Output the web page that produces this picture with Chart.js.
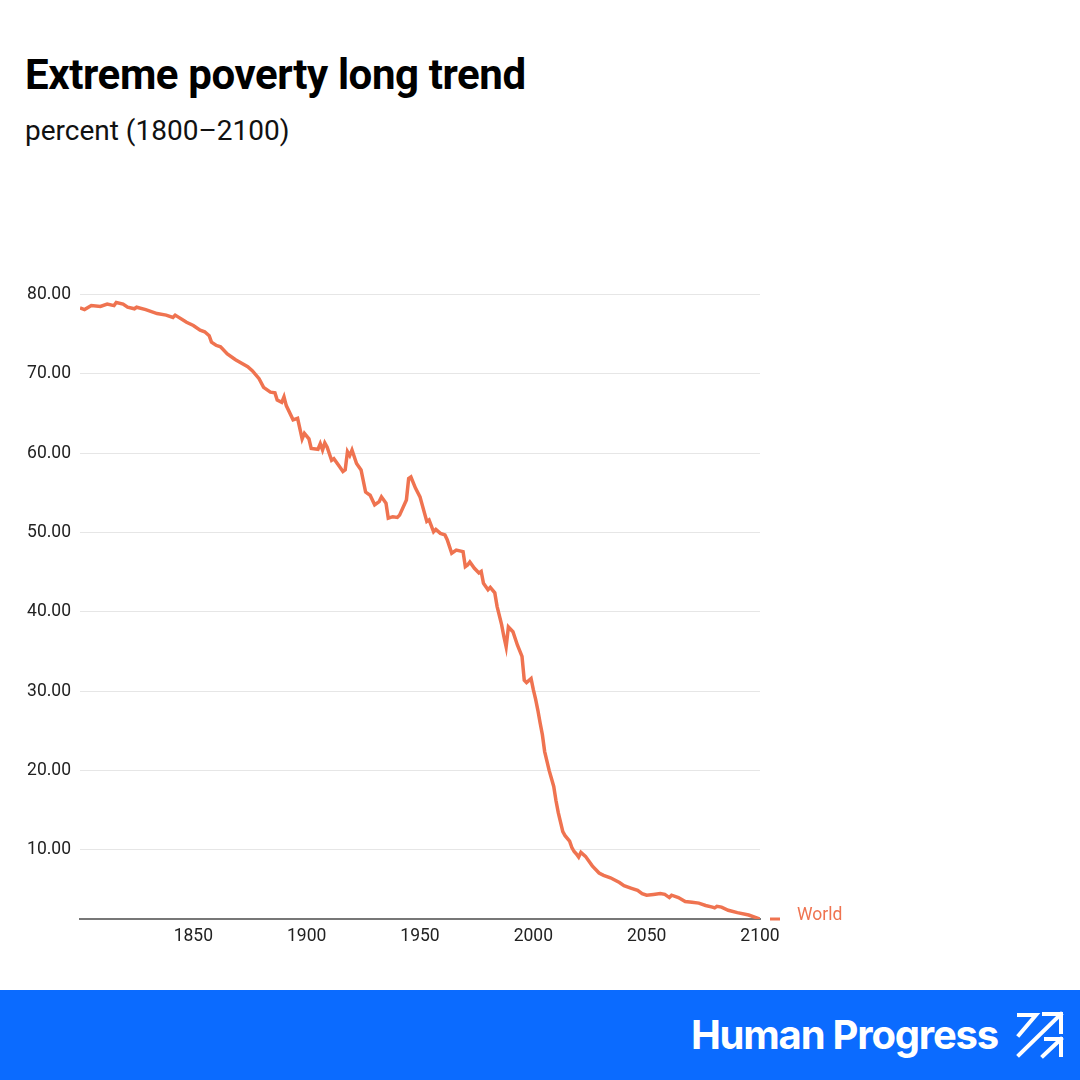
<!DOCTYPE html>
<html>
<head>
<meta charset="utf-8">
<script src="https://cdn.jsdelivr.net/npm/chart.js@4.4.1/dist/chart.umd.min.js"></script>
<style>
    html, body { margin: 0; padding: 0; background: #fff; }
    body { width: 1080px; height: 1080px; position: relative; overflow: hidden; font-family: Roboto, sans-serif; }
    #title { position: absolute; left: 25px; top: 50px; font-size: 42px; font-weight: 700; color: #000; letter-spacing: -0.4px; }
    #subtitle { position: absolute; left: 25px; top: 114px; font-size: 28px; color: #111; }
    #chartWrap { position: absolute; left: 0; top: 275px; width: 1080px; height: 695px; }
    #footer { position: absolute; left: 0; top: 990px; width: 1080px; height: 90px; background: #0b6bff; }
    #brand { position: absolute; right: 82px; top: 20px; font-family: Inter, sans-serif; font-weight: 700; font-size: 40px; color: #fff; letter-spacing: -1.2px; }
    #logo { position: absolute; left: 0; top: 0; }
</style>
</head>
<body>
<div id="title">Extreme poverty long trend</div>
<div id="subtitle">percent (1800–2100)</div>
<div id="chartWrap"><canvas id="povertyChart" width="1080" height="695"></canvas></div>
<div id="footer">
    <div id="brand">Human Progress</div>
    <svg id="logo" width="1080" height="90" viewBox="0 990 1080 90">
        <g fill="none" stroke="#fff" stroke-width="4" stroke-linecap="square">
            <path d="M1019 1015 H1036 L1019 1035"/>
            <path d="M1019 1055 L1061 1014 M1044 1014 H1061 V1032"/>
            <path d="M1043 1056 L1061 1039 M1046 1039 H1061 V1055"/>
        </g>
    </svg>
</div>
<script>
    // Data
    const years = [
        1800, 1802, 1805, 1809, 1812, 1815, 1816, 1819, 1821, 1824, 1825, 1829, 1834, 1838, 1841, 1842, 1847,
        1850, 1853, 1855, 1857, 1858, 1860, 1862, 1865, 1868, 1869, 1874, 1876, 1879, 1881, 1884, 1886, 1887,
        1889, 1890, 1891, 1894, 1896, 1898, 1899, 1901, 1902, 1905, 1906, 1907, 1908, 1909, 1911, 1912, 1914,
        1915, 1916, 1917, 1918, 1919, 1920, 1922, 1924, 1926, 1928, 1930, 1932, 1933, 1935, 1936, 1938, 1940,
        1941, 1944, 1945, 1946, 1948, 1950, 1953, 1954, 1956, 1957, 1959, 1961, 1962, 1964, 1966, 1969, 1970,
        1971, 1972, 1974, 1976, 1977, 1978, 1980, 1981, 1983, 1984, 1986, 1987, 1988, 1989, 1991, 1993, 1995,
        1996, 1997, 1999, 2000, 2001, 2002, 2003, 2004, 2005, 2006, 2007, 2008, 2009, 2010, 2011, 2012, 2013,
        2014, 2016, 2017, 2018, 2019, 2020, 2021, 2023, 2026, 2029, 2031, 2034, 2038, 2040, 2043, 2046, 2048,
        2050, 2053, 2056, 2058, 2060, 2061, 2064, 2067, 2070, 2073, 2076, 2079, 2080, 2081, 2083, 2086, 2090,
        2095, 2100
    ];
    const worldPercent = [
        78.3, 78.1, 78.6, 78.5, 78.8, 78.6, 79.0, 78.8, 78.4, 78.2, 78.4, 78.1, 77.6, 77.4, 77.1, 77.4, 76.5,
        76.1, 75.5, 75.3, 74.8, 74.0, 73.6, 73.4, 72.5, 71.9, 71.7, 70.9, 70.4, 69.4, 68.3, 67.7, 67.6, 66.7,
        66.4, 67.1, 66.0, 64.2, 64.4, 61.8, 62.5, 61.8, 60.6, 60.5, 61.2, 60.4, 61.3, 60.8, 59.1, 59.3, 58.5,
        58.1, 57.7, 57.9, 60.2, 59.7, 60.4, 58.7, 57.9, 55.1, 54.7, 53.5, 53.9, 54.5, 53.7, 51.8, 52.0, 51.9,
        52.2, 54.1, 56.8, 57.0, 55.6, 54.5, 51.4, 51.6, 50.1, 50.4, 49.9, 49.7, 49.1, 47.4, 47.8, 47.6, 45.7,
        45.9, 46.3, 45.5, 44.9, 45.1, 43.6, 42.8, 43.1, 42.4, 40.7, 38.4, 36.9, 35.6, 38.1, 37.5, 35.8, 34.4,
        31.4, 31.1, 31.6, 30.2, 29.0, 27.6, 26.0, 24.5, 22.4, 21.2, 20.0, 19.0, 18.0, 16.2, 14.7, 13.5, 12.3,
        11.8, 11.1, 10.3, 9.8, 9.5, 9.1, 9.7, 9.2, 8.0, 7.1, 6.8, 6.5, 5.9, 5.5, 5.2, 4.9, 4.5,
        4.3, 4.4, 4.5, 4.4, 4.0, 4.3, 4.0, 3.5, 3.4, 3.3, 3.0, 2.8, 2.7, 2.9, 2.8, 2.4, 2.1,
        1.8, 1.3
    ];
    const yTickValues = [10, 20, 30, 40, 50, 60, 70, 80];
    const xTickValues = [1850, 1900, 1950, 2000, 2050, 2100];
    const seriesName = 'World';
    const lineColor = '#ef7350';

    // Inline series label at the right end of the line
    const endLabel = {
        id: 'endLabel',
        afterDatasetsDraw(chart) {
            const { ctx, chartArea, scales } = chart;
            const y = scales.y.getPixelForValue(worldPercent[worldPercent.length - 1]);
            ctx.save();
            ctx.strokeStyle = lineColor;
            ctx.lineWidth = 3;
            ctx.beginPath();
            ctx.moveTo(chartArea.right + 10, y);
            ctx.lineTo(chartArea.right + 20, y);
            ctx.stroke();
            ctx.fillStyle = lineColor;
            ctx.font = '17.5px Roboto';
            ctx.textBaseline = 'middle';
            ctx.fillText(seriesName, chartArea.right + 37, y - 3);
            ctx.restore();
        }
    };

    const ctx = document.getElementById('povertyChart').getContext('2d');
    new Chart(ctx, {
        type: 'line',
        data: {
            datasets: [{
                label: seriesName,
                data: years.map((yr, i) => ({ x: yr, y: worldPercent[i] })),
                borderColor: lineColor,
                borderWidth: 3.5,
                pointRadius: 0,
                tension: 0,
                fill: false
            }]
        },
        options: {
            responsive: false,
            animation: false,
            layout: { padding: { top: 10, right: 320, left: 0, bottom: 0 } },
            plugins: {
                legend: { display: false },
                tooltip: { enabled: false }
            },
            scales: {
                x: {
                    type: 'linear',
                    min: 1800,
                    max: 2100,
                    afterBuildTicks: axis => { axis.ticks = xTickValues.map(v => ({ value: v })); },
                    afterFit: axis => { axis.height = 51; },
                    grid: { display: false, drawTicks: false },
                    border: { display: true, color: '#777', width: 2 },
                    ticks: {
                        color: '#222',
                        font: { family: 'Roboto', size: 17.5 },
                        padding: 7,
                        maxRotation: 0,
                        callback: v => String(v)
                    }
                },
                y: {
                    min: 1.3,
                    max: 80,
                    afterBuildTicks: axis => { axis.ticks = yTickValues.map(v => ({ value: v })); },
                    afterFit: axis => { axis.width = 80; },
                    grid: { color: '#e6e6e6', lineWidth: 1, drawTicks: false },
                    border: { display: false },
                    ticks: {
                        color: '#222',
                        font: { family: 'Roboto', size: 17.5 },
                        padding: 9,
                        callback: v => Number(v).toFixed(2)
                    }
                }
            }
        },
        plugins: [endLabel]
    });
</script>
</body>
</html>
